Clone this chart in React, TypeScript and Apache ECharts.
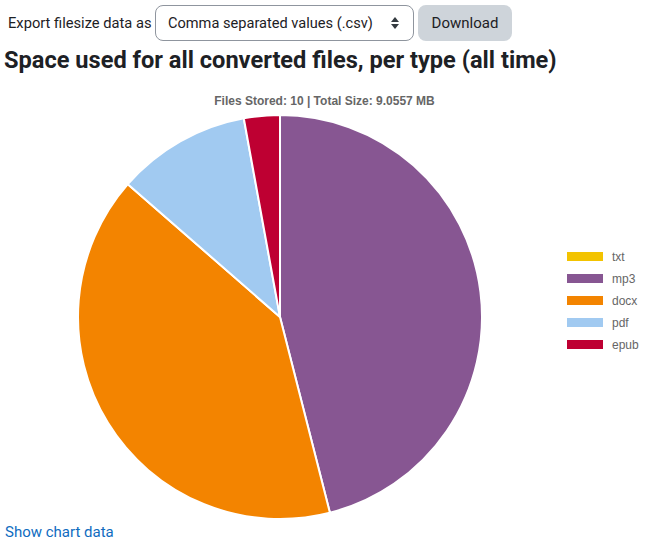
import React, { useEffect, useRef } from "react";
import * as echarts from "echarts";

const categories = ["txt", "mp3", "docx", "pdf", "epub"];
const sizesMB = [0, 4.17, 3.66, 0.97, 0.26];
const colors = ["#f3c300", "#875692", "#f38400", "#a1caf1", "#be0032"];
const chartTitle = "Files Stored: 10 | Total Size: 9.0557 MB";

export default function App() {
  const ref = useRef<HTMLDivElement>(null);

  useEffect(() => {
    if (!ref.current) return;
    const chart = echarts.init(ref.current, undefined, { renderer: "svg" });
    chart.setOption({
      animation: false,
      color: colors,
      title: {
        text: chartTitle,
        left: "center",
        top: 10,
        textStyle: {
          fontFamily: "'Liberation Sans', Arial, sans-serif",
          fontSize: 12,
          fontWeight: "bold",
          color: "#666",
        },
      },
      legend: {
        orient: "vertical",
        left: 565,
        top: 170,
        padding: 0,
        icon: "rect",
        itemWidth: 38,
        itemHeight: 11,
        itemGap: 9,
        data: categories,
        textStyle: {
          fontFamily: "'Liberation Sans', Arial, sans-serif",
          fontSize: 12,
          lineHeight: 12,
          color: "#666",
          padding: [0, 0, 0, 3],
        },
      },
      series: [
        {
          type: "pie",
          center: [280, 237],
          radius: 202,
          startAngle: 90,
          clockwise: true,
          label: { show: false },
          labelLine: { show: false },
          emphasis: { disabled: true },
          itemStyle: { borderColor: "#fff", borderWidth: 2 },
          data: categories.map((c, i) => ({ name: c, value: sizesMB[i] })),
        },
      ],
    });
    return () => chart.dispose();
  }, []);

  const font = "Roboto, 'Noto Sans', sans-serif";

  return (
    <div
      style={{
        position: "absolute",
        left: 0,
        top: 0,
        width: 649,
        height: 548,
        background: "#fff",
        fontFamily: font,
        color: "#1d2125",
        overflow: "hidden",
      }}
    >
      <div
        style={{
          position: "absolute",
          left: 8,
          top: 5,
          height: 36,
          lineHeight: "36px",
          fontSize: 14.7,
        }}
      >
        Export filesize data as
      </div>
      <div
        style={{
          position: "absolute",
          left: 155,
          top: 5,
          width: 259,
          height: 36,
          boxSizing: "border-box",
          border: "1px solid #8f959e",
          borderRadius: 8,
          fontSize: 14.6,
          lineHeight: "34px",
          paddingLeft: 12,
          color: "#1d2125",
        }}
      >
        Comma separated values (.csv)
        <svg
          width="10"
          height="14"
          style={{ position: "absolute", right: 13, top: 10 }}
          viewBox="0 0 10 14"
        >
          <polygon points="1,6 5,1 9,6" fill="#343a40" />
          <polygon points="1,8 5,13 9,8" fill="#343a40" />
        </svg>
      </div>
      <div
        style={{
          position: "absolute",
          left: 418,
          top: 5,
          width: 94,
          height: 36,
          background: "#ced4da",
          borderRadius: 8,
          fontSize: 15,
          lineHeight: "36px",
          textAlign: "center",
          color: "#1d2125",
        }}
      >
        Download
      </div>
      <div
        style={{
          position: "absolute",
          left: 4,
          top: 45,
          fontSize: 23.6,
          fontWeight: 700,
          lineHeight: "30px",
          whiteSpace: "nowrap",
          color: "#1d2125",
        }}
      >
        Space used for all converted files, per type (all time)
      </div>
      <div
        ref={ref}
        style={{ position: "absolute", left: 0, top: 80, width: 649, height: 445 }}
      />
      <div
        style={{
          position: "absolute",
          left: 5,
          top: 521,
          fontSize: 15,
          lineHeight: "22px",
          color: "#0f6cbf",
        }}
      >
        Show chart data
      </div>
    </div>
  );
}
